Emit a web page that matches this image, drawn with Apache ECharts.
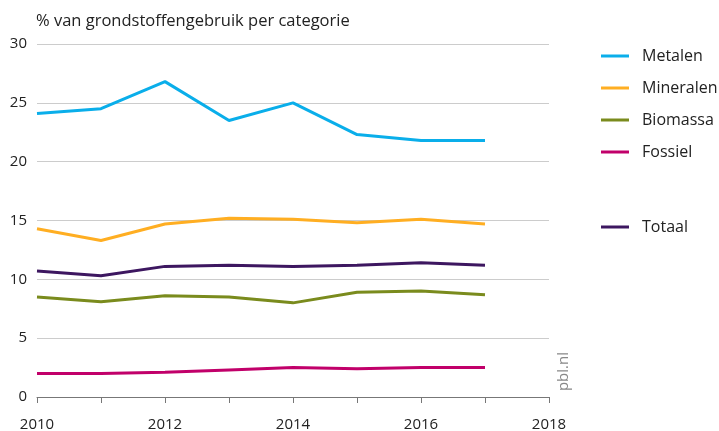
<!DOCTYPE html>
<html lang="nl">
<head>
    <meta charset="UTF-8">
    <title>Grondstoffengebruik per categorie</title>
    <script src="https://cdn.jsdelivr.net/npm/echarts@6/dist/echarts.min.js"></script>
</head>
<body style="margin:0">
<div id="main" style="width:719px;height:431px"></div>
<script type="text/javascript">
    // jaren en waarden per categorie (% van grondstoffengebruik)
    var years = [2010, 2011, 2012, 2013, 2014, 2015, 2016, 2017];
    var metalen = [24.1, 24.5, 26.8, 23.5, 25.0, 22.3, 21.8, 21.8];
    var mineralen = [14.3, 13.3, 14.7, 15.2, 15.1, 14.8, 15.1, 14.7];
    var biomassa = [8.5, 8.1, 8.6, 8.5, 8.0, 8.9, 9.0, 8.7];
    var fossiel = [2.0, 2.0, 2.1, 2.3, 2.5, 2.4, 2.5, 2.5];
    var totaal = [10.7, 10.3, 11.1, 11.2, 11.1, 11.2, 11.4, 11.2];
    var xLabels = [2010, 2012, 2014, 2016, 2018];

    var fontFam = '"Open Sans", "Noto Sans", sans-serif';

    function pairs(arr) {
        var out = [];
        for (var i = 0; i < years.length; i++) {
            out.push([years[i], arr[i]]);
        }
        return out;
    }

    function lijn(name, color, data) {
        return {
            name: name,
            type: 'line',
            symbol: 'none',
            lineStyle: {width: 3, color: color},
            itemStyle: {color: color},
            data: pairs(data)
        };
    }

    var myChart = echarts.init(document.getElementById('main'));
    myChart.setOption({
        animation: false,
        textStyle: {fontFamily: fontFam},
        title: {
            text: '% van grondstoffengebruik per categorie',
            left: 31,
            top: 8,
            textStyle: {fontSize: 16.5, fontWeight: 'normal', color: '#222', fontFamily: fontFam}
        },
        grid: {left: 37, right: 170, top: 44, bottom: 34, outerBoundsMode: 'none'},
        legend: [{
            orient: 'vertical',
            left: 596,
            top: 40,
            itemWidth: 28,
            itemHeight: 3,
            itemGap: 10,
            icon: 'rect',
            textStyle: {fontSize: 16, color: '#222', padding: [0, 0, 0, 8], height: 22, lineHeight: 22},
            data: ['Metalen', 'Mineralen', 'Biomassa', 'Fossiel']
        }, {
            orient: 'vertical',
            left: 596,
            top: 211,
            itemWidth: 28,
            itemHeight: 3,
            icon: 'rect',
            textStyle: {fontSize: 16, color: '#222', padding: [0, 0, 0, 8], height: 22, lineHeight: 22},
            data: ['Totaal']
        }],
        xAxis: {
            type: 'value',
            min: 2010,
            max: 2018,
            interval: 1,
            splitLine: {show: false},
            axisLine: {lineStyle: {color: '#777', width: 1}},
            axisTick: {show: true, length: 6, lineStyle: {color: '#777'}},
            axisLabel: {
                color: '#222',
                fontSize: 15,
                margin: 20,
                formatter: function (v) {
                    return xLabels.indexOf(v) >= 0 ? String(v) : '';
                }
            }
        },
        yAxis: {
            type: 'value',
            min: 0,
            max: 30,
            interval: 5,
            axisLine: {show: false},
            axisTick: {show: false},
            splitLine: {lineStyle: {color: '#cccccc', width: 1}},
            axisLabel: {color: '#222', fontSize: 15, margin: 10}
        },
        graphic: [{
            type: 'text',
            left: 556,
            top: 352,
            rotation: Math.PI / 2,
            style: {text: 'pbl.nl', fill: '#888', font: '15px ' + fontFam}
        }],
        series: [
            lijn('Metalen', '#0aaeea', metalen),
            lijn('Mineralen', '#ffae22', mineralen),
            lijn('Biomassa', '#7a8b1d', biomassa),
            lijn('Fossiel', '#c1006a', fossiel),
            lijn('Totaal', '#3d1760', totaal)
        ]
    });
</script>
</body>
</html>
